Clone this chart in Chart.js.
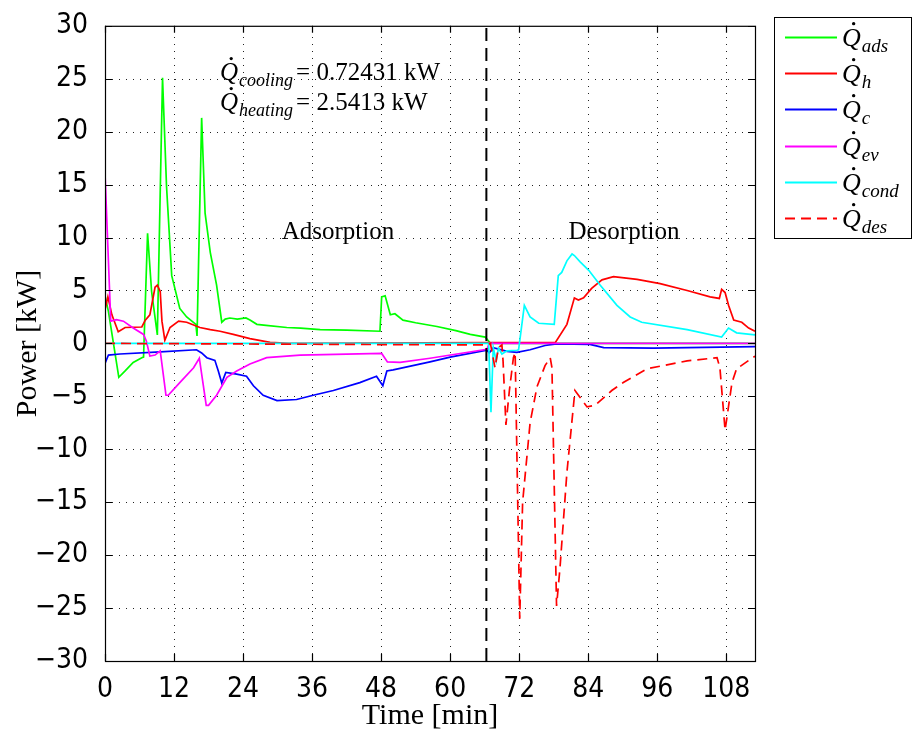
<!DOCTYPE html>
<html lang="en">
<head>
<meta charset="UTF-8">
<title>Power during adsorption / desorption</title>
<script src="https://cdn.jsdelivr.net/npm/chart.js"></script>
<style>
  html, body { margin: 0; padding: 0; background: #fff; }
</style>
</head>
<body>
<canvas id="myChart" width="913" height="738"></canvas>
<script>
// axis ticks
var xTicks = [0, 12, 24, 36, 48, 60, 72, 84, 96, 108];
var yTicks = [-30, -25, -20, -15, -10, -5, 0, 5, 10, 15, 20, 25, 30];
var switchTime = 66.3;   // end of adsorption phase [min]

// Q_ads (green)
var adsT = [0, 0.6, 2.4, 3.5, 4.9, 6.4, 6.7, 7.4, 8.1, 9.1, 10.0, 10.7, 11.6, 13.0, 14.2, 15.8, 16.0, 16.8, 17.4, 18.3, 19.4, 20.3, 20.9, 21.7, 23.0, 24.5, 25.2, 26.4, 28.0, 31.6, 34.0, 37.4, 42.0, 47.8, 48.1, 48.7, 49.6, 50.4, 51.8, 54.0, 57.7, 61.0, 63.5, 66.1, 67.0, 113];
var adsP = [4.5, 3.0, -3.2, -2.6, -1.8, -1.35, -1.3, 10.4, 4.9, 0.8, 25.1, 14.8, 6.4, 3.3, 2.5, 1.8, 0.7, 21.3, 12.3, 8.6, 5.5, 2.0, 2.3, 2.4, 2.3, 2.4, 2.2, 1.8, 1.7, 1.5, 1.45, 1.3, 1.25, 1.15, 4.4, 4.5, 2.7, 2.8, 2.2, 1.95, 1.6, 1.2, 0.85, 0.6, 0, 0];

// Q_h (red)
var hT = [0, 0.5, 1.2, 2.3, 3.5, 6.4, 7.0, 7.8, 8.7, 9.1, 9.6, 9.9, 10.4, 11.3, 12.8, 14.2, 16.5, 18.3, 20.0, 22.3, 25.2, 28.7, 32.0, 78.3, 80.3, 81.6, 82.3, 83.2, 84.6, 86.4, 88.4, 92.5, 96.5, 101.2, 105.2, 106.8, 107.2, 107.8, 108.4, 109.3, 110.7, 111.9, 113];
var hP = [3.2, 4.4, 2.7, 1.1, 1.5, 1.55, 2.2, 2.7, 5.3, 5.5, 4.9, 2.1, 0.3, 1.5, 2.1, 2.0, 1.5, 1.3, 1.15, 0.85, 0.45, 0.1, 0, 0.1, 1.8, 4.3, 4.1, 4.3, 5.2, 6.0, 6.3, 6.05, 5.65, 5.0, 4.4, 4.25, 5.1, 4.8, 3.6, 2.2, 2.0, 1.45, 1.15];

// Q_c (blue)
var cT = [0, 0.6, 2.6, 9.6, 15.9, 16.8, 17.7, 19.1, 19.7, 20.3, 21.0, 22.9, 24.6, 25.8, 27.5, 29.9, 33.3, 36.2, 39.7, 44.3, 47.2, 48.3, 49.0, 50.1, 56.5, 60.0, 66.4, 66.8, 67.5, 69.9, 71.6, 73.9, 76.5, 78.5, 84.3, 86.7, 95.4, 113];
var cP = [-1.9, -1.1, -1.0, -0.8, -0.6, -0.9, -1.35, -1.6, -2.6, -3.75, -2.75, -2.9, -3.1, -4.0, -4.9, -5.4, -5.3, -4.9, -4.45, -3.7, -3.1, -4.0, -2.6, -2.5, -1.75, -1.3, -0.65, -0.9, -0.4, -0.75, -0.85, -0.6, -0.2, -0.05, -0.1, -0.4, -0.45, -0.3];

// Q_ev (magenta)
var evT = [0, 1.0, 2.0, 3.2, 4.9, 6.7, 7.2, 7.8, 8.7, 9.6, 10.6, 11.0, 13.0, 15.4, 16.4, 17.6, 18.0, 19.4, 21.2, 22.9, 25.2, 28.1, 33.9, 48.1, 49.1, 51.3, 56.5, 66.4, 66.8, 113];
var evP = [16.1, 2.1, 2.25, 2.1, 1.45, 0.85, 0.2, -1.2, -1.1, -0.7, -4.9, -4.9, -3.7, -2.3, -1.4, -5.85, -5.85, -4.9, -3.2, -2.6, -1.95, -1.35, -1.1, -0.95, -1.75, -1.8, -1.4, -0.55, 0, 0];

// Q_cond (cyan)
var condT = [0, 66.7, 67.1, 67.5, 68.0, 68.4, 69.0, 69.9, 71.6, 71.9, 72.9, 73.9, 75.4, 78.1, 78.8, 79.4, 80.3, 81.2, 81.6, 82.6, 84.1, 86.1, 89.0, 91.3, 93.3, 101.2, 107.2, 108.4, 109.8, 113];
var condP = [0, 0, -6.5, -0.4, -1.65, -0.45, -1.0, -0.7, -0.65, -0.6, 3.6, 2.5, 1.9, 1.8, 6.4, 6.7, 7.8, 8.45, 8.3, 7.7, 6.9, 5.5, 3.6, 2.5, 2.0, 1.3, 0.6, 1.45, 1.0, 0.8];

// Q_des (red dashed)
var desT = [0, 66.4, 67.0, 67.8, 68.4, 69.0, 69.2, 69.7, 70.3, 71.0, 71.3, 72.1, 72.6, 73.9, 75.1, 76.5, 77.4, 77.7, 78.5, 79.1, 80.3, 81.7, 82.6, 83.8, 85.2, 88.1, 90.1, 94.2, 101.2, 106.4, 106.9, 107.8, 109.0, 109.8, 112.2, 113];
var desP = [0, -0.15, 0, -2.3, -0.4, -0.15, -1.65, -7.7, -4.45, -1.35, -0.85, -26.0, -15, -7.5, -4.1, -2.1, -1.35, -2.3, -24.8, -21.2, -12.2, -4.45, -5.1, -6.0, -5.85, -4.45, -3.7, -2.4, -1.65, -1.35, -2.3, -8.2, -3.7, -2.4, -1.5, -1.2];

var legendSubs = ['ads', 'h', 'c', 'ev', 'cond', 'des'];
var eqSubs = ['cooling', 'heating'];
var eqValues = ['= 0.72431 kW', '= 2.5413 kW'];
var phaseLabels = ['Adsorption', 'Desorption'];

var serif = '"Liberation Serif", "DejaVu Serif", serif';

function pts(ts, ys) {
  return ts.map(function (t, i) { return { x: t, y: ys[i] }; });
}

function line(name, ts, ys, color, order, dash) {
  return {
    label: name,
    data: pts(ts, ys),
    borderColor: color,
    backgroundColor: color,
    borderWidth: 1.7,
    borderDash: dash || [],
    pointRadius: 0,
    tension: 0,
    fill: false,
    order: order
  };
}

// draws a Q with a dot over it and an italic subscript, returns end x
function drawQdot(ctx, x, base, sub, size) {
  ctx.font = 'italic ' + size + 'px ' + serif;
  ctx.textAlign = 'left';
  ctx.textBaseline = 'alphabetic';
  ctx.fillText('Q', x, base);
  var w = ctx.measureText('Q').width;
  ctx.beginPath();
  ctx.arc(x + w * 0.62, base - size * 0.86, size * 0.065, 0, 2 * Math.PI);
  ctx.fill();
  var subSize = Math.round(size * 0.72);
  ctx.font = 'italic ' + subSize + 'px ' + serif;
  ctx.fillText(sub, x + w + 1, base + size * 0.24);
  return x + w + 1 + ctx.measureText(sub).width;
}

var matlabLook = {
  id: 'matlabLook',
  beforeDatasetsDraw: function (chart) {
    var ctx = chart.ctx, a = chart.chartArea;
    var xs = chart.scales.x, ys = chart.scales.y;
    ctx.save();
    ctx.strokeStyle = '#222';
    ctx.lineWidth = 1;
    ctx.setLineDash([1, 6]);
    xTicks.forEach(function (v) {
      if (v === 0) return;
      var px = Math.round(xs.getPixelForValue(v)) + 0.5;
      ctx.beginPath(); ctx.moveTo(px, a.bottom); ctx.lineTo(px, a.top); ctx.stroke();
    });
    yTicks.forEach(function (v) {
      if (v === -30 || v === 30) return;
      var py = Math.round(ys.getPixelForValue(v)) + 0.5;
      ctx.beginPath(); ctx.moveTo(a.left, py); ctx.lineTo(a.right, py); ctx.stroke();
    });
    ctx.restore();
  },
  afterDatasetsDraw: function (chart) {
    var ctx = chart.ctx, a = chart.chartArea;
    var xs = chart.scales.x, ys = chart.scales.y;
    ctx.save();
    // frame + inner ticks
    ctx.strokeStyle = '#000';
    ctx.lineWidth = 1.2;
    ctx.setLineDash([]);
    ctx.strokeRect(a.left + 0.5, a.top + 0.5, a.right - a.left, a.bottom - a.top);
    var tl = 7;
    ctx.beginPath();
    xTicks.forEach(function (v) {
      var px = Math.round(xs.getPixelForValue(v)) + 0.5;
      ctx.moveTo(px, a.bottom); ctx.lineTo(px, a.bottom - tl);
      ctx.moveTo(px, a.top); ctx.lineTo(px, a.top + tl);
    });
    yTicks.forEach(function (v) {
      var py = Math.round(ys.getPixelForValue(v)) + 0.5;
      ctx.moveTo(a.left, py); ctx.lineTo(a.left + tl, py);
      ctx.moveTo(a.right, py); ctx.lineTo(a.right - tl, py);
    });
    ctx.stroke();

    // equations
    ctx.fillStyle = '#000';
    var eqBase = [80, 110];
    for (var i = 0; i < 2; i++) {
      var xe = drawQdot(ctx, 220, eqBase[i], eqSubs[i], 25);
      ctx.font = '25px ' + serif;
      ctx.fillText(eqValues[i], xe + 3, eqBase[i]);
    }
    // phase labels
    ctx.font = '25px ' + serif;
    ctx.textAlign = 'center';
    ctx.fillText(phaseLabels[0], 338, 239);
    ctx.fillText(phaseLabels[1], 624, 239);

    // legend box
    var lx = 774, ly = 17, lw = 138, lh = 221;
    ctx.fillStyle = '#fff';
    ctx.fillRect(lx, ly, lw, lh);
    ctx.strokeStyle = '#000';
    ctx.lineWidth = 1;
    ctx.strokeRect(lx + 0.5, ly + 0.5, lw - 1, lh);
    var rows = [37, 73, 109, 146, 182, 218];
    chart.data.datasets.slice(0, 6).forEach(function (ds, k) {
      ctx.strokeStyle = ds.borderColor;
      ctx.lineWidth = 1.8;
      ctx.setLineDash(ds.borderDash || []);
      ctx.beginPath();
      ctx.moveTo(785, rows[k] + 0.5);
      ctx.lineTo(837, rows[k] + 0.5);
      ctx.stroke();
      ctx.setLineDash([]);
      ctx.fillStyle = '#000';
      drawQdot(ctx, 842, rows[k] + 9, legendSubs[k], 26);
    });
    ctx.restore();
  }
};

var datasets = [
  line('Q\u0307 ads', adsT, adsP, '#00ff00', 6),
  line('Q\u0307 h', hT, hP, '#ff0000', 5),
  line('Q\u0307 c', cT, cP, '#0000ff', 4),
  line('Q\u0307 ev', evT, evP, '#ff00ff', 3),
  line('Q\u0307 cond', condT, condP, '#00ffff', 2),
  line('Q\u0307 des', desT, desP, '#ff0000', 1, [10, 6]),
  {
    label: 'switch',
    data: [{ x: switchTime, y: -30 }, { x: switchTime, y: 30 }],
    borderColor: '#000',
    borderWidth: 2,
    borderDash: [13, 7],
    pointRadius: 0,
    fill: false,
    order: 0
  }
];

var ctx = document.getElementById('myChart').getContext('2d');
var tickFont = { family: '"Liberation Sans Narrow", "DejaVu Sans Condensed", "Liberation Sans", sans-serif', size: 28 };

var myChart = new Chart(ctx, {
  type: 'line',
  data: { datasets: datasets },
  options: {
    responsive: false,
    animation: false,
    devicePixelRatio: 1,
    layout: { padding: { left: 0, top: 17, right: 158, bottom: 0 } },
    plugins: { legend: { display: false }, tooltip: { enabled: false } },
    scales: {
      x: {
        type: 'linear',
        min: 0,
        max: 113,
        grid: { display: false },
        border: { display: false },
        afterBuildTicks: function (axis) { axis.ticks = xTicks.map(function (v) { return { value: v }; }); },
        afterFit: function (scale) { scale.height = 77; },
        ticks: { color: '#000', font: tickFont, padding: 4, maxRotation: 0, autoSkip: false },
        title: { display: true, text: 'Time [min]', color: '#000', font: { family: serif, size: 30 }, padding: { top: 0, bottom: 4 } }
      },
      y: {
        type: 'linear',
        min: -30,
        max: 30,
        grid: { display: false },
        border: { display: false },
        afterBuildTicks: function (axis) { axis.ticks = yTicks.map(function (v) { return { value: v }; }); },
        afterFit: function (scale) { scale.width = 105; },
        ticks: {
          color: '#000', font: tickFont, padding: 9, autoSkip: false,
          callback: function (v) { return v < 0 ? '\u2212' + Math.abs(v) : String(v); }
        },
        title: { display: true, text: 'Power [kW]', color: '#000', font: { family: serif, size: 30 }, padding: { top: 10, bottom: 0 } }
      }
    }
  },
  plugins: [matlabLook]
});
</script>
</body>
</html>
